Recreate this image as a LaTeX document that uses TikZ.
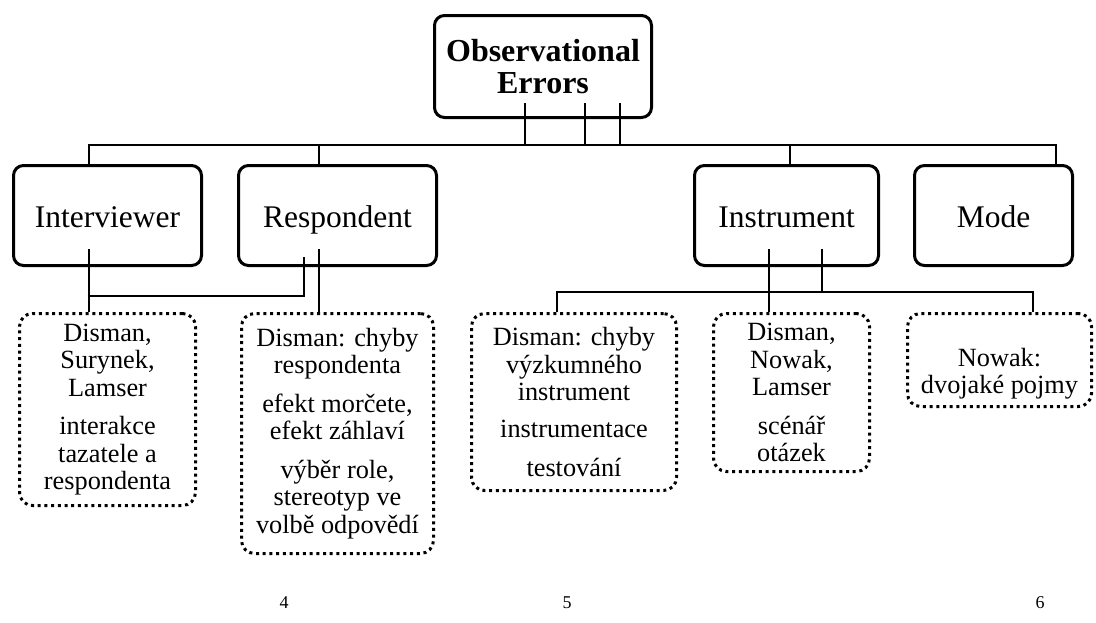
\documentclass[tikz,border=0pt]{standalone}
\usepackage{fontspec}
\setmainfont{Liberation Serif}
\tikzset{
  topbox/.style={draw, line width=3pt, rounded corners=10pt, inner sep=0pt, align=center,
    font=\fontsize{32}{32}\selectfont\bfseries},
  mainbox/.style={draw, line width=3pt, rounded corners=10pt, inner sep=0pt, align=center,
    font=\fontsize{31.5}{34}\selectfont, text height=23pt, text depth=0pt, minimum height=100pt},
  notebox/.style={draw, line width=3pt, rounded corners=13pt, dash pattern=on 3pt off 3.7pt,
    inner sep=0pt, align=center, font=\fontsize{26.3}{27.5}\selectfont},
  conn/.style={line width=1.6pt},
  pagenum/.style={font=\fontsize{18}{20}\selectfont, inner sep=0pt}
}
\begin{document}
\begin{tikzpicture}[x=1pt,y=-1pt]
\useasboundingbox (0,0) rectangle (1096,622);

% main boxes
\node[topbox, minimum width=217pt, minimum height=102pt] (top) at (543,66.5) {Observational\\Errors};
\node[mainbox, minimum width=188pt] (intv) at (107.5,215.5) {Interviewer};
\node[mainbox, minimum width=198pt] (resp) at (337.5,215.5) {Respondent};
\node[mainbox, minimum width=184pt] (inst) at (786.5,215.5) {Instrument};
\node[mainbox, minimum width=158pt] (mode) at (993.5,215.5) {Mode};

% dotted note boxes
\node[notebox, minimum width=176pt, minimum height=192pt] (d1) at (107.5,409.5)
  {Disman,\\Surynek,\\Lamser\\[11pt]interakce\\tazatele a\\respondenta};
\node[notebox, minimum width=192pt, minimum height=240pt] (d2) at (337.5,433.5)
  {Disman: chyby\\respondenta\\[11pt]efekt morčete,\\efekt záhlaví\\[11pt]výběr role,\\stereotyp ve\\volbě odpovědí};
\node[notebox, minimum width=205pt, minimum height=177pt] (d3) at (574,402)
  {Disman: chyby\\výzkumného\\instrument\\[9pt]instrumentace\\[12pt]testování};
\node[notebox, minimum width=156pt, minimum height=158pt] (d4) at (791.5,392.5)
  {Disman,\\Nowak,\\Lamser\\[11pt]scénář\\otázek};
\node[notebox, minimum width=184pt, minimum height=93pt] (d5) at (999.5,360)
  {\rule{0pt}{46pt}Nowak:\\dvojaké pojmy};

% buses
\coordinate (bus) at (0,145);
\coordinate (lowbusA) at (0,296);
\coordinate (lowbusB) at (0,292);

% top connectors
\foreach \dx in {-18,42,77}
  \draw[conn] ([xshift=\dx pt,yshift=16pt]top.south) -- ([xshift=\dx pt]top.south |- bus);
\draw[conn] ([xshift=-18.5pt]intv.north) -- ([xshift=-18.5pt]intv.north |- bus)
  -- ([xshift=62.5pt]mode.north |- bus) -- ([xshift=62.5pt]mode.north);
\draw[conn] ([xshift=-18.5pt]resp.north) -- ([xshift=-18.5pt]resp.north |- bus);
\draw[conn] ([xshift=3.5pt]inst.north) -- ([xshift=3.5pt]inst.north |- bus);

% lower connectors left
\draw[conn] ([xshift=-18.5pt,yshift=18pt]intv.south) -- ([xshift=-18.5pt]d1.north);
\draw[conn] ([xshift=-20pt]intv.south |- lowbusA) -| ([xshift=-33.5pt,yshift=10pt]resp.south);
\draw[conn] ([xshift=-18.5pt,yshift=18pt]resp.south) -- ([xshift=-18.5pt]d2.north);

% lower connectors right
\draw[conn] ([xshift=-17.5pt,yshift=18pt]inst.south) -- ([xshift=-17.5pt]inst.south |- d4.north);
\draw[conn] ([xshift=35.5pt,yshift=18pt]inst.south) -- ([xshift=35.5pt]inst.south |- lowbusB);
\draw[conn] ([xshift=-17pt]d3.north) -- ([xshift=-17pt]d3.north |- lowbusB)
  -- ([xshift=33.5pt]d5.north |- lowbusB) -- ([xshift=33.5pt]d5.north);

% page numbers
\node[pagenum] (p4) at (284,603) {4};
\node[pagenum] (p5) at (567,603) {5};
\node[pagenum] (p6) at (1040,603) {6};
\end{tikzpicture}
\end{document}
